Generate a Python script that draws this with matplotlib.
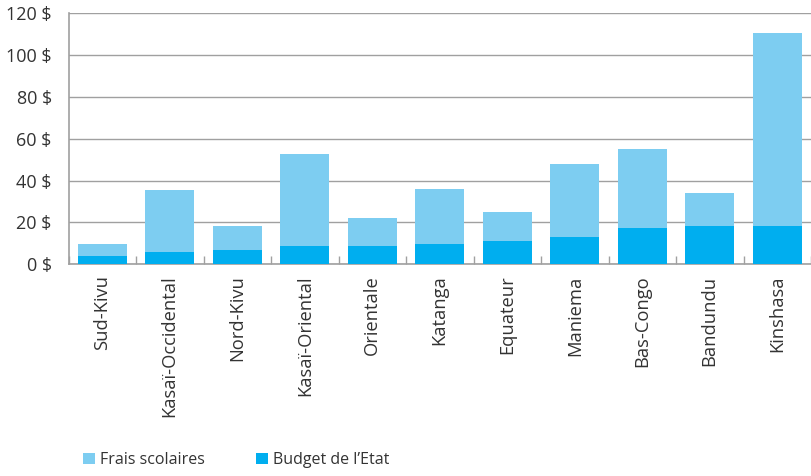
import matplotlib
matplotlib.use("Agg")
import matplotlib.pyplot as plt
from matplotlib.patches import Patch
import numpy as np

regions = ["Sud-Kivu", "Kasaï-Occidental", "Nord-Kivu", "Kasaï-Oriental", "Orientale",
           "Katanga", "Equateur", "Maniema", "Bas-Congo", "Bandundu", "Kinshasa"]
budget_etat = [4.0, 5.9, 6.8, 8.8, 8.8, 9.7, 11.1, 13.1, 17.4, 18.3, 18.3]
totals = [9.7, 35.5, 18.3, 52.7, 22.1, 36.0, 25.0, 47.9, 55.1, 34.1, 110.5]
frais_scolaires = [t - b for t, b in zip(totals, budget_etat)]
y_ticks = [0, 20, 40, 60, 80, 100, 120]
y_tick_labels = [f"{v} $" for v in y_ticks]

light = "#7DCDF1"
dark = "#00AEEF"
grid_c = "#A0A0A0"
text_c = "#333333"

plt.rcParams['font.family'] = ['Open Sans', 'DejaVu Sans']

fig = plt.figure(figsize=(8.11, 4.76), dpi=100)
ax = fig.add_axes([68.5 / 811, (476 - 264.3) / 476, 1 - 68.5 / 811, (264.3 - 13) / 476])

x = np.arange(len(regions))
w = 0.72
ax.bar(x, budget_etat, width=w, color=dark, zorder=3)
ax.bar(x, frais_scolaires, width=w, bottom=budget_etat, color=light, zorder=3)

ax.set_ylim(0, 120)
ax.set_xlim(-0.5, 10.42)
ax.set_yticks(y_ticks)
ax.set_yticklabels(y_tick_labels, fontsize=13, color=text_c)
ax.yaxis.grid(True, color=grid_c, linewidth=1.0, zorder=0)
ax.tick_params(axis='y', length=0, pad=12)

ax.set_xticks(x)
ax.set_xticklabels(regions, rotation=90, fontsize=13.2, color=text_c)
ax.tick_params(axis='x', length=0, pad=8)
# boundary ticks
ax.set_xticks(np.arange(-0.5, len(regions), 1.0), minor=True)
ax.tick_params(axis='x', which='minor', direction='in', length=6, color=grid_c, width=1)

for s in ['top', 'right']:
    ax.spines[s].set_visible(False)
for s in ['left', 'bottom']:
    ax.spines[s].set_color(grid_c)
    ax.spines[s].set_linewidth(1.2)

handles = [Patch(facecolor=light, label="Frais scolaires"),
           Patch(facecolor=dark, label="Budget de l’Etat")]
fig.legend(handles=handles, loc='lower left', bbox_to_anchor=(75 / 811, 0.0), ncol=2,
           frameon=False, fontsize=11.5, handlelength=0.75, handleheight=0.75,
           handletextpad=0.3, columnspacing=3.2, labelcolor=text_c, borderaxespad=0.1)

fig.savefig("out.png", dpi=100)
